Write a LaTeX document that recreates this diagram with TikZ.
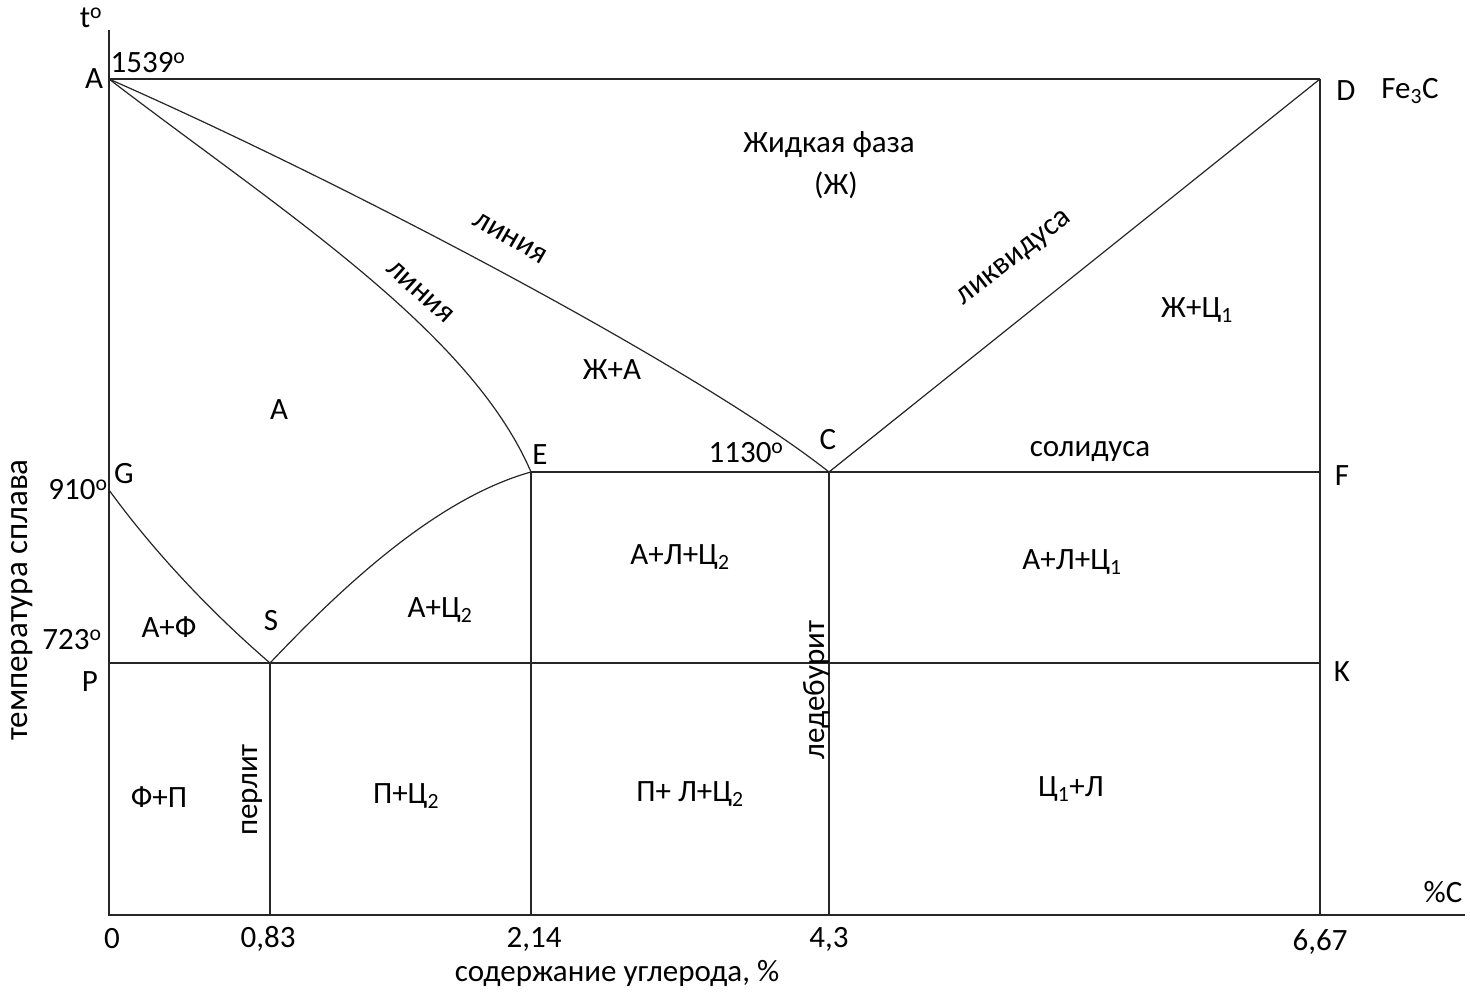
\documentclass[tikz,border=0pt]{standalone}
\usepackage{fontspec}
\setmainfont{Carlito}
\begin{document}
\begin{tikzpicture}[x=1pt,y=-1pt,
  lbl/.style={inner sep=0pt,font=\fontsize{31}{36}\selectfont},
  ln/.style={line width=1.2pt,black!85},
  ax/.style={line width=1.8pt,black!85}]
\path[use as bounding box,fill=white] (0,0) rectangle (1470,991);
% key points
\coordinate (O) at (109,915);
\coordinate (Ytop) at (109,30);
\coordinate (Xend) at (1465,915);
\coordinate (A) at (109,79);
\coordinate (D) at (1320,79);
\coordinate (C) at (829,472);
\coordinate (E) at (531,472);
\coordinate (F) at (1320,472);
\coordinate (G) at (109,490);
\coordinate (S) at (270,663);
\coordinate (P) at (109,663);
\coordinate (K) at (1320,663);
\coordinate (S0) at (270,915);
\coordinate (E0) at (531,915);
\coordinate (C0) at (829,915);
\coordinate (D0) at (1320,915);
% axes
\draw[ax] (Ytop) -- (O) -- (Xend);
% lines
\draw[ax] (A) -- (D);
\draw[ln] (D) -- (D0);
\draw[ln] (E) -- (F);
\draw[ln] (P) -- (K);
\draw[ln] (S) -- (S0);
\draw[ln] (E) -- (E0);
\draw[ln] (C) -- (C0);
\draw[ln] (C) -- (D);
\draw[ln] (A) .. controls (350,185) and (700,370) .. (C);
\draw[ln] (A) .. controls (280,210) and (470,330) .. (E);
\draw[ln] (G) .. controls (160,560) and (220,620) .. (S);
\draw[ln] (S) .. controls (330,600) and (430,500) .. (E);
% labels
\node[lbl] (tl) at (91,18) {t\textsuperscript{o}};
\node[lbl] (t1539) at (148,63) {1539\textsuperscript{o}};
\node[lbl] (lA) at (94,79) {A};
\node[lbl] (lD) at (1346,91) {D};
\node[lbl] (lFe) at (1410,91) {Fe\textsubscript{3}C};
\node[lbl] (liq) at (829,145) {Жидкая фаза};
\node[lbl] (liq2) at (836,185) {(Ж)};
\node[lbl,rotate=-30] (lin1) at (510,238) {линия};
\node[lbl,rotate=-42] (lin2) at (420,292) {линия};
\node[lbl,rotate=38] (likv) at (1015,259) {ликвидуса};
\node[lbl] (zc1) at (1197,310) {Ж+Ц\textsubscript{1}};
\node[lbl] (za) at (612,370) {Ж+А};
\node[lbl] (ra) at (279,410) {А};
\node[lbl] (lE) at (540,455) {E};
\node[lbl] (t1130) at (746,453) {1130\textsuperscript{o}};
\node[lbl] (lC) at (828,440) {C};
\node[lbl] (sol) at (1090,452) {солидуса};
\node[lbl] (lF) at (1342,476) {F};
\node[lbl] (lG) at (124,474) {G};
\node[lbl] (t910) at (78,490) {910\textsuperscript{o}};
\node[lbl] (alc2) at (680,557) {А+Л+Ц\textsubscript{2}};
\node[lbl] (alc1) at (1072,562) {А+Л+Ц\textsubscript{1}};
\node[lbl] (ac2) at (440,610) {А+Ц\textsubscript{2}};
\node[lbl] (af) at (169,627) {А+Ф};
\node[lbl] (lS) at (271,621) {S};
\node[lbl] (t723) at (72,640) {723\textsuperscript{o}};
\node[lbl] (lP) at (90,682) {P};
\node[lbl] (lK) at (1342,672) {K};
\node[lbl,rotate=90] (led) at (816,690) {ледебурит};
\node[lbl,rotate=90] (perl) at (252,790) {перлит};
\node[lbl] (fp) at (159,797) {Ф+П};
\node[lbl] (pc2) at (406,796) {П+Ц\textsubscript{2}};
\node[lbl] (plc2) at (690,794) {П+ Л+Ц\textsubscript{2}};
\node[lbl] (c1l) at (1071,789) {Ц\textsubscript{1}+Л};
\node[lbl] (pc) at (1443,892) {\%C};
\node[lbl] (x0) at (112,939) {0};
\node[lbl] (x083) at (268,939) {0,83};
\node[lbl] (x214) at (534,939) {2,14};
\node[lbl] (x43) at (829,939) {4,3};
\node[lbl] (x667) at (1320,942) {6,67};
\node[lbl] (xlab) at (617,973) {содержание углерода, \%};
\node[lbl,rotate=90,font=\fontsize{33}{38}\selectfont] (ylab) at (22,600) {температура сплава};
\end{tikzpicture}
\end{document}
